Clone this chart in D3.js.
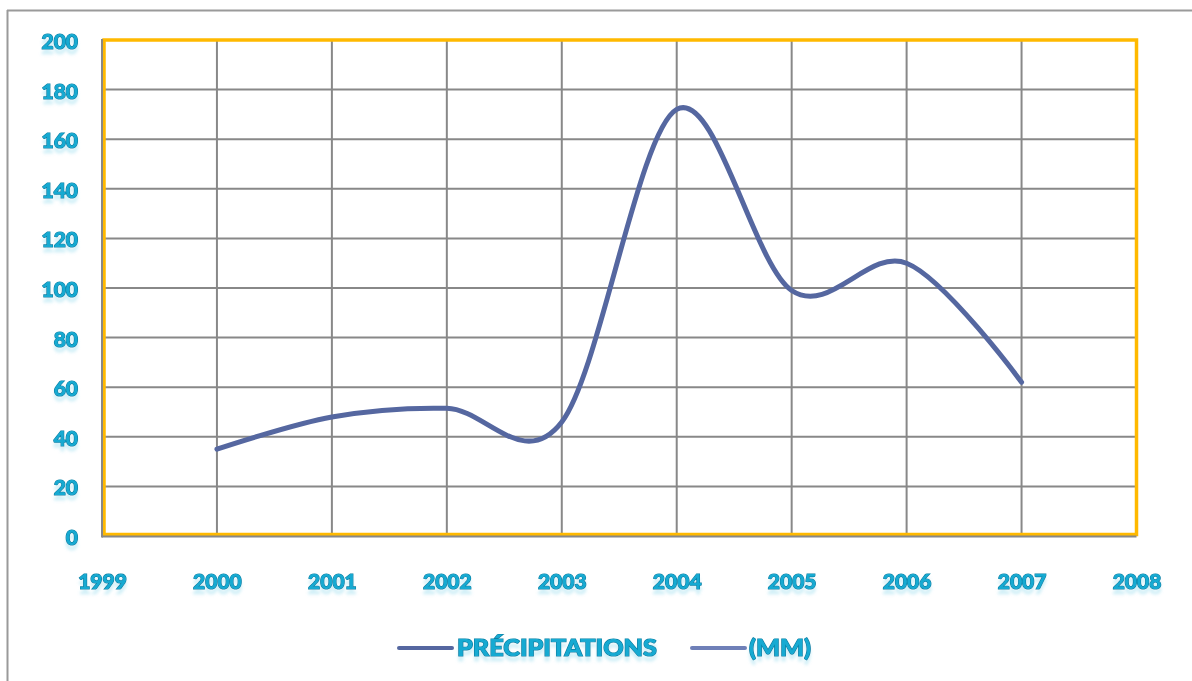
<!DOCTYPE html>
<html>
<head>
<meta charset="utf-8">
<script src="https://cdn.jsdelivr.net/npm/d3@7"></script>
<style>
  html, body { margin: 0; padding: 0; background: #ffffff; }
  svg { display: block; }
</style>
</head>
<body>
<script>
// ---- data ----
const years = [2000, 2001, 2002, 2003, 2004, 2005, 2006, 2007];
const precipitation = [35, 48, 51.5, 46, 172, 99, 110, 62];
const xTickLabels = ["1999", "2000", "2001", "2002", "2003", "2004", "2005", "2006", "2007", "2008"];
const yTickValues = [0, 20, 40, 60, 80, 100, 120, 140, 160, 180, 200];
const legendLabels = ["PRÉCIPITATIONS", "(MM)"];

const W = 1192, H = 681;
const svg = d3.select("body").append("svg").attr("width", W).attr("height", H);

// filter: soft reflection/glow under text
const defs = svg.append("defs");
const f = defs.append("filter").attr("id", "glow").attr("x", "-20%").attr("y", "-30%").attr("width", "140%").attr("height", "190%");
f.append("feGaussianBlur").attr("in", "SourceAlpha").attr("stdDeviation", 1.5).attr("result", "b");
f.append("feOffset").attr("in", "b").attr("dy", 5).attr("result", "o");
f.append("feFlood").attr("flood-color", "#7fd3ea").attr("flood-opacity", 0.35);
f.append("feComposite").attr("in2", "o").attr("operator", "in").attr("result", "s");
const fm = f.append("feMerge");
fm.append("feMergeNode").attr("in", "s");
fm.append("feMergeNode").attr("in", "SourceGraphic");

// outer frame
svg.append("line").attr("x1", 7).attr("x2", W).attr("y1", 10.5).attr("y2", 10.5)
  .attr("stroke", "#9a9a9a").attr("stroke-width", 2);
svg.append("line").attr("x1", 7.5).attr("x2", 7.5).attr("y1", 10).attr("y2", H)
  .attr("stroke", "#9a9a9a").attr("stroke-width", 2);

// scales
const x = d3.scaleLinear().domain([1999, 2008]).range([102, 1136.5]);
const y = d3.scaleLinear().domain([0, 200]).range([536, 40]);

const textStyle = sel => sel
  .attr("font-family", "Lato, 'Open Sans', sans-serif")
  .attr("font-weight", "900")
  .attr("fill", "#19aad2")
  .attr("stroke", "#0a7fa3")
  .attr("stroke-width", 1.2)
  .attr("paint-order", "stroke")
  .attr("filter", "url(#glow)");

// gridlines
const grid = svg.append("g");
grid.selectAll("line.h").data(yTickValues.filter(v => v > 0 && v < 200)).join("line")
  .attr("x1", x(1999)).attr("x2", x(2008))
  .attr("y1", d => y(d)).attr("y2", d => y(d))
  .attr("stroke", "#888888").attr("stroke-width", 2);
grid.selectAll("line.v").data(d3.range(2000, 2008)).join("line")
  .attr("x1", d => x(d)).attr("x2", d => x(d))
  .attr("y1", y(200)).attr("y2", y(0))
  .attr("stroke", "#888888").attr("stroke-width", 2);

// plot area border (yellow)
svg.append("rect")
  .attr("x", x(1999) + 2).attr("y", y(200))
  .attr("width", x(2008) - x(1999) - 2).attr("height", y(0) - y(200) - 1.5)
  .attr("fill", "none").attr("stroke", "#ffb900").attr("stroke-width", 3.5);

// axis lines (gray)
svg.append("line").attr("x1", x(1999)).attr("x2", x(1999)).attr("y1", y(200) - 1).attr("y2", y(0) + 1.5)
  .attr("stroke", "#888888").attr("stroke-width", 2);
svg.append("line").attr("x1", x(1999)).attr("x2", x(2008)).attr("y1", y(0) + 0.5).attr("y2", y(0) + 0.5)
  .attr("stroke", "#888888").attr("stroke-width", 2);

// y axis labels
const yAxis = d3.axisLeft(y).tickValues(yTickValues).tickSize(0).tickPadding(0).tickFormat(d3.format("d"));
const gy = svg.append("g").attr("transform", "translate(78,0)").call(yAxis);
gy.select(".domain").remove();
gy.selectAll("text").call(textStyle).attr("font-size", 21).attr("dy", "0.4em");

// x axis labels
const xAxis = d3.axisBottom(x).tickValues(d3.range(1999, 2009)).tickSize(0).tickPadding(0)
  .tickFormat((d, i) => xTickLabels[i]);
const gx = svg.append("g").attr("transform", "translate(0,581)").call(xAxis);
gx.select(".domain").remove();
gx.selectAll("text").call(textStyle).attr("font-size", 21).attr("dy", "0.36em");

// series line
const line = d3.line().x((d, i) => x(years[i])).y(d => y(d)).curve(d3.curveCardinal.tension(0));
svg.append("path").datum(precipitation)
  .attr("d", line)
  .attr("fill", "none").attr("stroke", "#5567a0").attr("stroke-width", 5)
  .attr("stroke-linecap", "round").attr("stroke-linejoin", "round");

// legend
const legend = [
  { label: legendLabels[0], x1: 399, x2: 452, tx: 457, color: "#5567a0", len: 200 },
  { label: legendLabels[1], x1: 692, x2: 745, tx: 749, color: "#6f80b8", len: 62 }
];
legend.forEach(l => {
  svg.append("line").attr("x1", l.x1).attr("x2", l.x2).attr("y1", 648).attr("y2", 648)
    .attr("stroke", l.color).attr("stroke-width", 4).attr("stroke-linecap", "round");
  svg.append("text").attr("x", l.tx).attr("y", 648).attr("dy", "0.36em")
    .call(textStyle).attr("font-size", 22)
    .attr("textLength", l.len).attr("lengthAdjust", "spacingAndGlyphs")
    .text(l.label);
});
</script>
</body>
</html>
